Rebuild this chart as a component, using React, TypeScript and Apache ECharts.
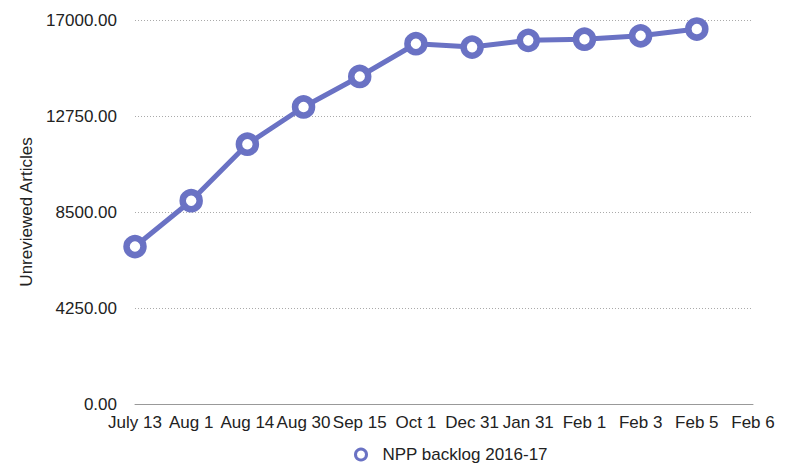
import React, { useEffect, useRef } from "react";
import * as echarts from "echarts";

const categories = ["July 13", "Aug 1", "Aug 14", "Aug 30", "Sep 15", "Oct 1", "Dec 31", "Jan 31", "Feb 1", "Feb 3", "Feb 5", "Feb 6"];
const backlog = [6970, 9000, 11500, 13150, 14500, 15950, 15800, 16100, 16150, 16300, 16600, null];
const seriesName = "NPP backlog 2016-17";
const yAxisTitle = "Unreviewed Articles";

const COLOR = "#6a72c4";
const FONT = "'Liberation Sans', Arial, Helvetica, sans-serif";

export default function App() {
  const ref = useRef<HTMLDivElement>(null);
  useEffect(() => {
    if (!ref.current) return;
    const chart = echarts.init(ref.current, undefined, { renderer: "svg" });
    chart.setOption({
      animation: false,
      backgroundColor: "#ffffff",
      textStyle: { fontFamily: FONT },
      grid: { left: 135, right: 47, top: 20, bottom: 64, containLabel: false },
      legend: {
        top: 441,
        left: 349,
        icon: "circle",
        itemWidth: 11,
        itemHeight: 11,
        itemGap: 10,
        itemStyle: { borderWidth: 3, color: "#fff", borderColor: COLOR },
        lineStyle: { width: 0 },
        textStyle: { fontSize: 17, color: "#222", fontFamily: FONT, padding: [0, 0, 0, 11] },
        data: [seriesName],
      },
      xAxis: {
        type: "category",
        data: categories,
        boundaryGap: false,
        axisLine: { show: true, lineStyle: { color: "#999", width: 1 } },
        axisTick: { show: false },
        axisLabel: { color: "#222", fontSize: 17, margin: 10, interval: 0, fontFamily: FONT },
        splitLine: { show: false },
      },
      yAxis: {
        type: "value",
        min: 0,
        max: 17000,
        interval: 4250,
        name: yAxisTitle,
        nameLocation: "middle",
        nameGap: 100,
        nameTextStyle: { fontSize: 17, color: "#222", fontFamily: FONT },
        axisLine: { show: false },
        axisTick: { show: false },
        axisLabel: {
          color: "#222",
          fontSize: 17,
          margin: 18,
          fontFamily: FONT,
          formatter: (v: number) => v.toFixed(2),
        },
        splitLine: { show: true, lineStyle: { color: "#aaa", type: [1, 2], width: 1 } },
      },
      series: [
        {
          name: seriesName,
          type: "line",
          data: backlog,
          symbol: "circle",
          symbolSize: 17,
          lineStyle: { color: COLOR, width: 5 },
          itemStyle: { color: "#fff", borderColor: COLOR, borderWidth: 6.5 },
          z: 3,
        },
      ],
    });
    return () => chart.dispose();
  }, []);
  return <div ref={ref} style={{ width: 800, height: 468, position: "absolute", left: 0, top: 0 }} />;
}
